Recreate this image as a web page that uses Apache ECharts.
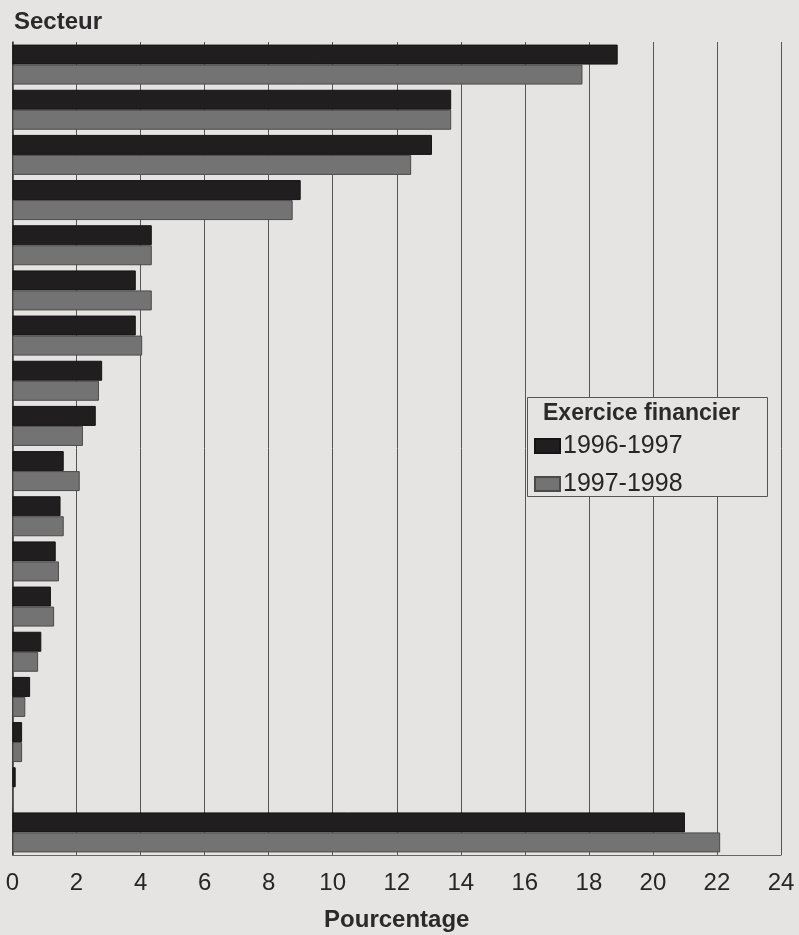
<!DOCTYPE html>
<html>
<head>
<meta charset="utf-8">
<title>Secteur - Pourcentage</title>
<script src="https://cdn.jsdelivr.net/npm/echarts@6/dist/echarts.min.js"></script>
<style>
    html, body { margin: 0; padding: 0; background: #e6e4e3; }
    #chart { width: 799px; height: 935px; }
</style>
</head>
<body>
<div id="chart"></div>
<script>
// sectors are unlabelled in the source, the last one is the big group at the bottom
const categories = [
    'S1', 'S2', 'S3', 'S4', 'S5', 'S6', 'S7', 'S8', 'S9',
    'S10', 'S11', 'S12', 'S13', 'S14', 'S15', 'S16', 'S17', 'S18'
];
const xTicks = [0, 2, 4, 6, 8, 10, 12, 14, 16, 18, 20, 22, 24];
const seriesNames = ['1996-1997', '1997-1998'];
const values9697 = [18.9, 13.7, 13.1, 9.0, 4.35, 3.85, 3.85, 2.8, 2.6, 1.6, 1.5, 1.35, 1.2, 0.9, 0.55, 0.3, 0.1, 21.0];
const values9798 = [17.8, 13.7, 12.45, 8.75, 4.35, 4.35, 4.05, 2.7, 2.2, 2.1, 1.6, 1.45, 1.3, 0.8, 0.4, 0.3, 0, 22.1];

document.addEventListener('DOMContentLoaded', () => {
    const chart = echarts.init(document.getElementById('chart'), null, { renderer: 'canvas' });
    const font = 'Liberation Sans, Arial, sans-serif';

    const option = {
        backgroundColor: '#e6e4e3',
        animation: false,
        textStyle: { fontFamily: font },
        title: {
            text: 'Secteur',
            left: 14,
            top: 10,
            padding: 0,
            textStyle: { fontFamily: font, fontSize: 24, fontWeight: 'bold', color: '#2a2a2a' }
        },
        grid: { left: 12.5, right: 18, top: 42, bottom: 80, containLabel: false, outerBoundsMode: 'none' },
        xAxis: {
            type: 'value',
            min: xTicks[0],
            max: xTicks[xTicks.length - 1],
            interval: 2,
            name: 'Pourcentage',
            nameLocation: 'middle',
            nameGap: 53,
            nameTextStyle: { fontFamily: font, fontSize: 24, fontWeight: 'bold', color: '#2a2a2a' },
            axisLine: { show: true, lineStyle: { color: '#666', width: 1 } },
            axisTick: { show: false },
            axisLabel: { fontFamily: font, fontSize: 24, color: '#262626', margin: 16 },
            splitLine: { show: true, lineStyle: { color: '#555', width: 1 } }
        },
        yAxis: {
            type: 'category',
            data: categories,
            inverse: true,
            axisLine: { show: true, lineStyle: { color: '#333', width: 1.5 } },
            axisTick: { show: false },
            axisLabel: { show: false },
            splitLine: { show: false }
        },
        legend: {
            orient: 'vertical',
            left: 534,
            top: 432,
            z: 100,
            itemWidth: 25,
            itemHeight: 14,
            itemGap: 10,
            padding: 0,
            icon: 'rect',
            data: seriesNames,
            textStyle: { fontFamily: font, fontSize: 25, lineHeight: 26, color: '#262626', padding: [2, 0, 0, -2] }
        },
        graphic: [
            {
                type: 'rect',
                left: 527,
                top: 397,
                z: 50,
                shape: { width: 240, height: 99 },
                style: { fill: '#e6e4e3', stroke: '#555', lineWidth: 1 }
            },
            {
                type: 'text',
                left: 543,
                top: 402,
                z: 51,
                style: { text: 'Exercice financier', fill: '#2a2a2a', font: 'bold 23px ' + font }
            }
        ],
        series: [
            {
                name: seriesNames[0],
                type: 'bar',
                data: values9697,
                barWidth: 20,
                barGap: '0%',
                itemStyle: { color: '#211e1f', borderColor: '#151314', borderWidth: 1 }
            },
            {
                name: seriesNames[1],
                type: 'bar',
                data: values9798,
                barWidth: 20,
                barGap: '0%',
                itemStyle: { color: '#747373', borderColor: '#4a4a4a', borderWidth: 1 }
            }
        ]
    };

    chart.setOption(option);
});
</script>
</body>
</html>
